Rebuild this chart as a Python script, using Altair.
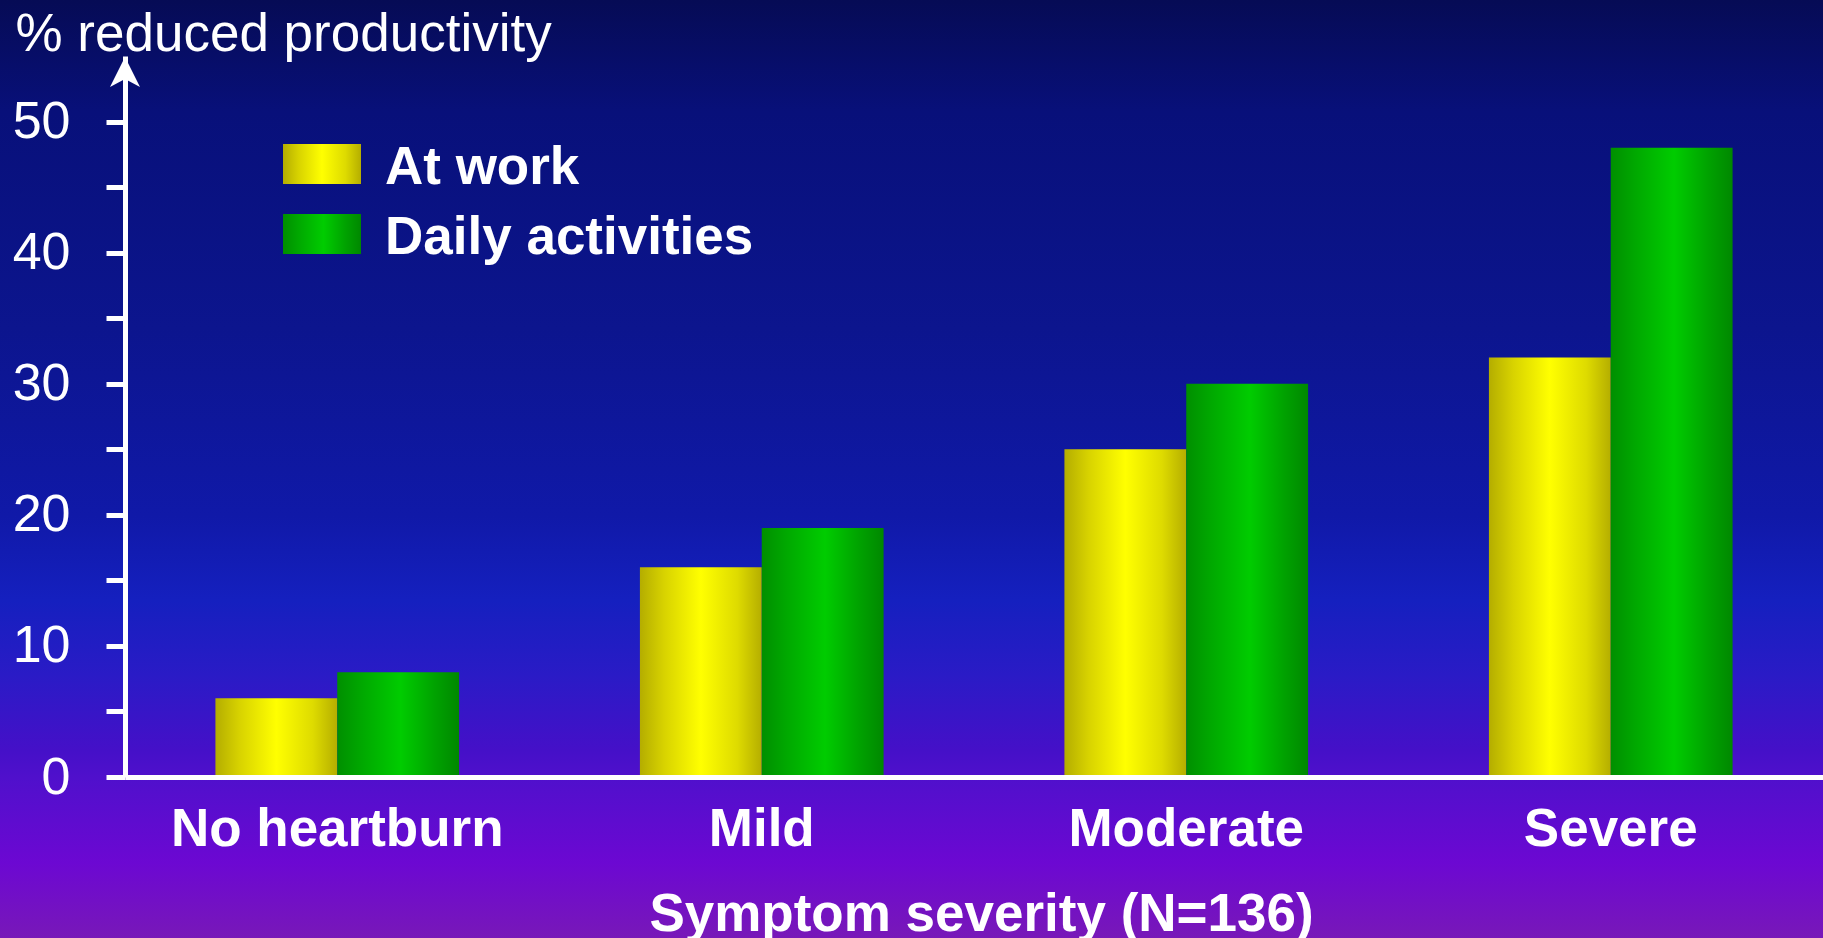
import altair as alt
import pandas as pd

# ---- data -------------------------------------------------------------
categories = ["No heartburn", "Mild", "Moderate", "Severe"]
series = ["At work", "Daily activities"]
at_work = [6, 16, 25, 32]
daily_activities = [8, 19, 30, 48]

rows = []
for i, cat in enumerate(categories):
    rows.append({"severity": cat, "series": series[0], "value": at_work[i]})
    rows.append({"severity": cat, "series": series[1], "value": daily_activities[i]})
df = pd.DataFrame(rows)

# ---- layout -------------------------------------------------------------
W, H = 1698, 721
PAD = {"left": 125, "top": 56, "right": 0, "bottom": 161}
FONT = "Liberation Sans"

# ---- fills ------------------------------------------------------------
def hgrad(stops):
    return alt.Gradient(
        gradient="linear", x1=0, y1=0, x2=1, y2=0,
        stops=[alt.GradientStop(offset=o, color=c) for o, c in stops],
    )

yellow_fill = hgrad([(0, "#b4ad00"), (0.2, "#d8d300"), (0.5, "#ffff00"),
                     (0.8, "#dedb00"), (1, "#b5ae00")])
green_fill = hgrad([(0, "#008f00"), (0.2, "#00a800"), (0.52, "#00cc00"),
                    (0.8, "#00a200"), (1, "#008800")])
fills = {series[0]: yellow_fill, series[1]: green_fill}

bg_fill = alt.Gradient(
    gradient="linear", x1=0, y1=0, x2=0, y2=1,
    stops=[alt.GradientStop(offset=o, color=c) for o, c in [
        (0.0, "#060b55"), (0.12, "#08107a"), (0.35, "#0c158e"),
        (0.55, "#1019a8"), (0.64, "#1520bf"), (0.72, "#2a1bc6"),
        (0.8, "#4510c8"), (0.83, "#5010cc"), (0.92, "#6c08d2"),
        (1.0, "#7818b8"),
    ]],
)

# ---- background panel covering the whole canvas --------------------------
background = alt.Chart(alt.Data(values=[{}])).mark_rect(fill=bg_fill).encode(
    x=alt.value(-PAD["left"]), x2=alt.value(W + PAD["right"]),
    y=alt.value(-PAD["top"]), y2=alt.value(H + PAD["bottom"]),
)

# ---- scales / axes ------------------------------------------------------
x_enc = alt.X(
    "severity:N", sort=categories,
    scale=alt.Scale(domain=categories, paddingInner=0.426, paddingOuter=0.213),
    axis=alt.Axis(
        title="Symptom severity (N=136)", titleFont=FONT, titleFontSize=53,
        titleFontWeight="bold", titleColor="white", titleBaseline="alphabetic",
        titleY=153, titleX=856, titleAlign="center",
        labelFont=FONT, labelFontSize=53, labelFontWeight="bold",
        labelColor="white", labelAngle=0, labelBaseline="alphabetic",
        labelPadding=68, labelLimit=0, ticks=False, tickSize=0,
        domainColor="white", domainWidth=5, zindex=2,
    ),
)
y_enc = alt.Y(
    "value:Q",
    scale=alt.Scale(domain=[0, 55], nice=False, zero=True),
    axis=alt.Axis(
        title="% reduced productivity", titleFont=FONT, titleFontSize=53,
        titleFontWeight="normal", titleColor="white", titleAngle=0,
        titleAlign="left", titleBaseline="alphabetic", titleX=-110, titleY=-6,
        titleLimit=0,
        values=list(range(0, 55, 5)),
        labelExpr="datum.value % 10 == 0 ? datum.label : ''",
        labelFont=FONT, labelFontSize=52, labelColor="white",
        labelPadding=36, labelAlign="right",
        tickSize=19, tickWidth=5, tickColor="white",
        domainColor="white", domainWidth=5, grid=False, zindex=2,
    ),
)
xoff_enc = alt.XOffset("series:N", scale=alt.Scale(domain=series))

bar_layers = [
    alt.Chart(df).transform_filter(alt.datum.series == s)
    .mark_bar(fill=fills[s], stroke=None)
    .encode(x=x_enc, y=y_enc, xOffset=xoff_enc)
    for s in series
]

# ---- arrowhead on top of the value axis ---------------------------------
arrow = alt.Chart(alt.Data(values=[{}])).mark_point(
    shape="M0,-1 L1,1 L0,0.47 L-1,1 Z", filled=True, fill="white",
    stroke=None, opacity=1, size=900,
).encode(x=alt.value(0), y=alt.value(16))

# ---- legend --------------------------------------------------------------
legend_layers = []
for i, s in enumerate(series):
    top = 88 + i * 70
    legend_layers.append(
        alt.Chart(alt.Data(values=[{"label": s}])).mark_rect(fill=fills[s]).encode(
            x=alt.value(158), x2=alt.value(236),
            y=alt.value(top), y2=alt.value(top + 40),
        )
    )
    legend_layers.append(
        alt.Chart(alt.Data(values=[{"label": s}])).mark_text(
            font=FONT, fontSize=53, fontWeight="bold", color="white",
            align="left", baseline="alphabetic",
        ).encode(x=alt.value(260), y=alt.value(top + 40), text="label:N")
    )

chart = alt.layer(background, *bar_layers, arrow, *legend_layers).properties(
    width=W, height=H, padding=PAD,
    autosize=alt.AutoSizeParams(type="none"),
    background="#0e1690",
).configure_view(stroke=None)

chart.save("out.html", embed_options={"renderer": "svg", "actions": False})
